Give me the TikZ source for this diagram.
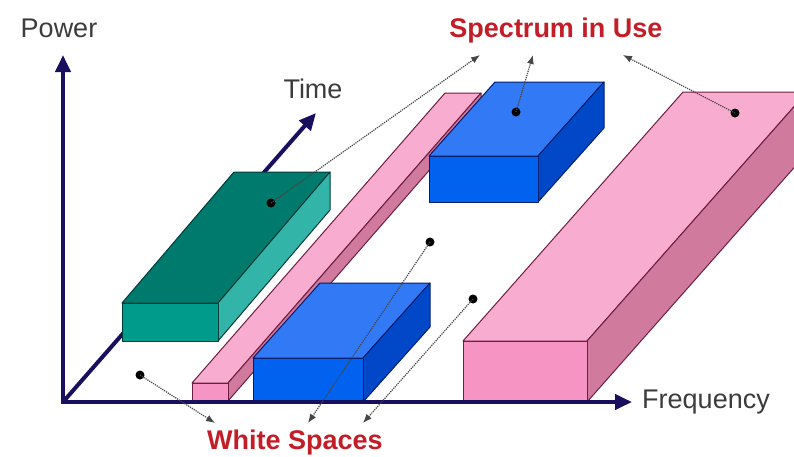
\documentclass[tikz,border=0pt]{standalone}
\usepackage{fontspec}
\setmainfont{Liberation Sans}
\usetikzlibrary{arrows.meta}
\definecolor{axiscol}{RGB}{25,15,95}
\definecolor{labelcol}{RGB}{60,60,60}
\definecolor{redcol}{RGB}{195,30,40}
\definecolor{ptrcol}{RGB}{70,70,70}
\definecolor{tealtop}{RGB}{0,122,108}
\definecolor{tealfront}{RGB}{0,155,138}
\definecolor{tealside}{RGB}{50,180,168}
\definecolor{tealedge}{RGB}{0,60,55}
\definecolor{bluetop}{RGB}{50,122,245}
\definecolor{bluefront}{RGB}{0,98,238}
\definecolor{blueside}{RGB}{0,72,200}
\definecolor{blueedge}{RGB}{0,30,110}
\definecolor{pinktop}{RGB}{248,172,208}
\definecolor{pinkfront}{RGB}{246,148,195}
\definecolor{pinkside}{RGB}{208,122,158}
\definecolor{pinkedge}{RGB}{110,30,65}
\newcommand{\mycuboid}[9]{%
  % #1 x1, #2 x2, #3 ytop, #4 ybot, #5 dx, #6 dy, #7 top, #8 front, #9 side
  \filldraw[fill=#7] (#1,#3) -- (#2,#3) -- ({#2+#5},{#3+#6}) -- ({#1+#5},{#3+#6}) -- cycle;
  \filldraw[fill=#9] (#2,#3) -- (#2,#4) -- ({#2+#5},{#4+#6}) -- ({#2+#5},{#3+#6}) -- cycle;
  \filldraw[fill=#8] (#1,#3) rectangle (#2,#4);
}
\tikzset{
  axis/.style={draw=axiscol,line width=4pt,-{Triangle[length=17pt,width=15pt]}},
  axlabel/.style={text=labelcol,font=\fontsize{27}{30}\selectfont,anchor=base,inner sep=0pt},
  redlabel/.style={text=redcol,font=\bfseries\fontsize{27}{30}\selectfont,anchor=base,inner sep=0pt},
  pointer/.style={draw=ptrcol,line width=1.2pt,densely dotted,-{Latex[length=9pt,width=7pt]}},
  ptdot/.style={circle,fill=black,inner sep=0pt,minimum size=9pt},
}
\begin{document}
\begin{tikzpicture}[x=1pt,y=-1pt,line join=round]
\useasboundingbox (0,0) rectangle (794,456);
\fill[white] (0,0) rectangle (794,456);
\clip (0,0) rectangle (794,456);
% origin and time axis (behind the blocks)
\coordinate (O) at (63,402);
\coordinate (Ttip) at (316,113);
\draw[axis] (O) -- (Ttip);
% thin pink bar
\begin{scope}[draw=pinkedge,line width=1pt]
\mycuboid{192}{228}{383}{401}{253}{-290}{pinktop}{pinkfront}{pinkside}
\end{scope}
% teal block
\begin{scope}[draw=tealedge,line width=1pt]
\mycuboid{122}{218}{303}{341}{112}{-131}{tealtop}{tealfront}{tealside}
\end{scope}
% upper blue block
\begin{scope}[draw=blueedge,line width=1pt]
\mycuboid{429}{538}{156}{202}{66}{-74}{bluetop}{bluefront}{blueside}
\end{scope}
% lower blue block
\begin{scope}[draw=blueedge,line width=1pt]
\mycuboid{253}{363}{358}{402}{67}{-75}{bluetop}{bluefront}{blueside}
\end{scope}
% big pink bar
\begin{scope}[draw=pinkedge,line width=1pt]
\mycuboid{463}{587}{341}{402}{220}{-249}{pinktop}{pinkfront}{pinkside}
\end{scope}
% axes
\coordinate (Ptip) at (63,55);
\coordinate (Ftip) at (632,402);
\draw[axis] (O) -- (Ptip);
\draw[axis] ([xshift=-2pt]O) -- (Ftip);
% axis labels
\node[axlabel] (power) at (59,37) {Power};
\node[axlabel] (time) at (313,98) {Time};
\node[axlabel] (freq) at (706,408) {Frequency};
% red labels
\node[redlabel] (spec) at (556,37) {Spectrum in Use};
\node[redlabel] (white) at (295,449) {White Spaces};
% pointer targets
\coordinate (s1) at (480,55);
\coordinate (s2) at (533,55);
\coordinate (s3) at (623,55);
\coordinate (w1) at (215,423);
\coordinate (w2) at (308,423);
\coordinate (w3) at (363,423);
% dots
\node[ptdot] (dteal) at (271,203) {};
\node[ptdot] (dblue) at (516,112) {};
\node[ptdot] (dpink) at (735,113) {};
\node[ptdot] (dw1) at (140,375) {};
\node[ptdot] (dw2) at (430,242) {};
\node[ptdot] (dw3) at (473,299) {};
% pointers
\draw[pointer] (dteal.center) -- (s1);
\draw[pointer] (dblue.center) -- (s2);
\draw[pointer] (dpink.center) -- (s3);
\draw[pointer] (dw1.center) -- (w1);
\draw[pointer] (dw2.center) -- (w2);
\draw[pointer] (dw3.center) -- (w3);
\end{tikzpicture}
\end{document}
